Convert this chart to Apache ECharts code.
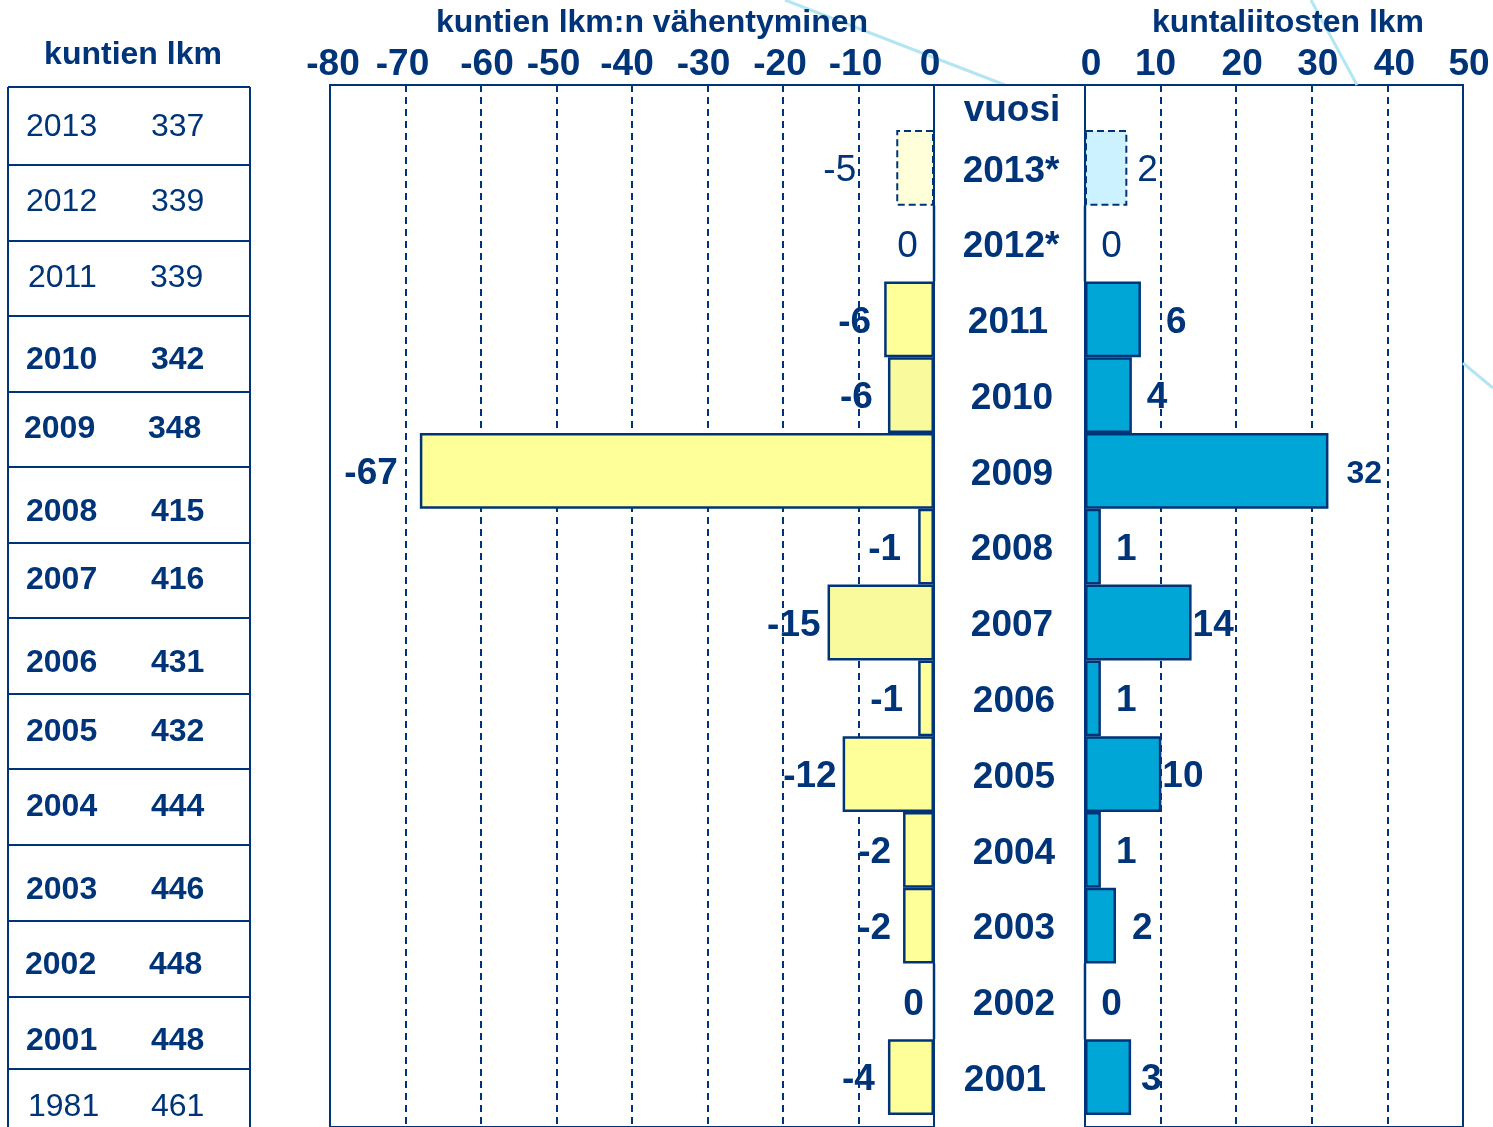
<!DOCTYPE html>
<html>
<head>
<meta charset="utf-8">
<title>kuntien lkm</title>
<script src="https://cdn.jsdelivr.net/npm/echarts@6/dist/echarts.min.js"></script>
<style>
html, body { margin: 0; padding: 0; background: #fff; }
#chart { width: 1493px; height: 1127px; }
</style>
</head>
<body>
<div id="chart"></div>
<script>
// data, bar lengths do not always agree with the printed labels
const years = ['2013*', '2012*', '2011', '2010', '2009', '2008', '2007', '2006', '2005', '2004', '2003', '2002', '2001'];
const decreaseBars = [-5, 0, -6.6, -6.1, -68.1, -2.1, -14.1, -2.1, -12.1, -4.1, -4.1, 0, -6.1];
const decreaseLabels = ['-5', '0', '-6', '-6', '-67', '-1', '-15', '-1', '-12', '-2', '-2', '0', '-4'];
const mergerBars = [5.6, 0, 7.4, 6.2, 32.2, 2.1, 14.1, 2.1, 10.1, 2.1, 4.1, 0, 6.1];
const mergerLabels = ['2', '0', '6', '4', '32', '1', '14', '1', '10', '1', '2', '0', '3'];
const tableYears = ['2013', '2012', '2011', '2010', '2009', '2008', '2007', '2006', '2005', '2004', '2003', '2002', '2001', '1981'];
const tableCounts = ['337', '339', '339', '342', '348', '415', '416', '431', '432', '444', '446', '448', '448', '461'];
const leftTicks = [-80, -70, -60, -50, -40, -30, -20, -10, 0];
const rightTicks = [0, 10, 20, 30, 40, 50];

// layout tweaks, the source slide is hand placed
const decreaseGaps = [40, 15, 13, 15, 22, 17, 7, 15, 6, 12, 12, 9, 13];
const mergerGaps = [10, 15, 25, 15, 18, 15, 1, 15, 1, 15, 16, 15, 10];
const leftTickShift = [3, -3, 6, -3, -5, -4, -3, -3, -4];
const rightTickShift = [6, -5, 6, 6, 7, 6];
const yearShift = [-1, -1, -4, 0, 0, 0, 0, 2, 2, 2, 2, 2, -7];
const rowLines = [87, 165, 241, 316, 392, 467, 543, 618, 694, 769, 845, 921, 997, 1069];
const rowTextY = [127, 202, 278, 360, 429, 512, 580, 663, 732, 807, 890, 965, 1041, 1107];
const rowYearX = [26, 26, 28, 26, 24, 26, 26, 26, 26, 26, 26, 25, 26, 28];
const rowCountX = [151, 151, 150, 151, 148, 151, 151, 151, 151, 151, 151, 149, 151, 151];

const NAVY = '#003478';
const FONT = '"Liberation Sans", Arial, sans-serif';

function shiftedLabels(list, shifts, size, down) {
  const rich = {};
  shifts.forEach((s, i) => {
    rich['p' + i] = {
      fontFamily: FONT, fontSize: size, fontWeight: 'bold', color: NAVY,
      padding: [down, s < 0 ? -2 * s : 0, 0, s > 0 ? 2 * s : 0],
    };
  });
  return {
    rich,
    formatter: (value) => `{p${list.indexOf(value)}|${value}}`,
  };
}

function barData(values, labels, gaps, side) {
  return values.map((value, i) => {
    const plain = i < 2; // * years are preliminary
    const item = {
      value,
      label: {
        show: true,
        position: side,
        distance: gaps[i],
        offset: [0, 3],
        formatter: labels[i],
        fontFamily: FONT,
        fontSize: labels[i] === '32' ? 32 : 37,
        fontWeight: plain ? 'normal' : 'bold',
        color: NAVY,
      },
    };
    if (i === 0) {
      item.itemStyle = {
        color: side === 'left' ? '#FFFFD9' : '#CCF2FF',
        borderColor: NAVY,
        borderWidth: 2,
        borderType: [7, 4],
      };
    }
    if (side === 'left' && (i === 3 || i === 6)) {
      item.itemStyle = { color: '#F8FA9B' };
    }
    return item;
  });
}

function valueAxis(grid, min, max, ticks, shifts, showLabels) {
  const labels = shiftedLabels(ticks.map(String), shifts, 37, 0);
  return {
    type: 'value',
    gridIndex: grid,
    position: 'top',
    min,
    max,
    interval: 10,
    axisLine: { show: false },
    axisTick: { show: false },
    axisLabel: {
      show: showLabels,
      margin: 2,
      rich: labels.rich,
      formatter: (value) => labels.formatter(String(value)),
    },
    splitLine: {
      show: showLabels,
      showMinLine: false,
      showMaxLine: false,
      lineStyle: { color: NAVY, width: 2, type: [7, 5] },
    },
  };
}

function decorLine(x1, y1, x2, y2) {
  return {
    type: 'line',
    z: 0,
    shape: { x1, y1, x2, y2 },
    style: { stroke: '#B3E5F2', lineWidth: 3 },
  };
}

function navyLine(x1, y1, x2, y2) {
  return {
    type: 'line',
    shape: { x1, y1, x2, y2 },
    style: { stroke: NAVY, lineWidth: 2 },
  };
}

function text(x, y, str, size, weight, align) {
  return {
    type: 'text',
    x,
    y,
    style: {
      text: str,
      fontFamily: FONT,
      fontSize: size,
      fontWeight: weight,
      fill: NAVY,
      align: align || 'center',
      verticalAlign: 'middle',
    },
  };
}

const tableParts = [navyLine(8, 87, 8, 1127), navyLine(250, 87, 250, 1127)];
rowLines.forEach((y) => tableParts.push(navyLine(8, y, 250, y)));
tableYears.forEach((year, i) => {
  const weight = i < 3 || i === 13 ? 'normal' : 'bold';
  tableParts.push(text(rowYearX[i], rowTextY[i], year, 32, weight, 'left'));
  tableParts.push(text(rowCountX[i], rowTextY[i], tableCounts[i], 32, weight, 'left'));
});

const yearLabels = shiftedLabels(years, yearShift, 37, 7);
const bandsTop = 130;
const bandsHeight = 985;

const chart = echarts.init(document.getElementById('chart'), null, { renderer: 'canvas' });
chart.setOption({
  animation: false,
  backgroundColor: '#fff',
  // frame with the dashed lines, then the bars start lower so that "vuosi" fits
  grid: [
    { left: 330, width: 604, top: 85, height: 1100, show: true, borderColor: NAVY, borderWidth: 2, backgroundColor: '#fff' },
    { left: 1085, width: 378, top: 85, height: 1100, show: true, borderColor: NAVY, borderWidth: 2, backgroundColor: '#fff' },
    { left: 330, width: 604, top: bandsTop, height: bandsHeight },
    { left: 1085, width: 378, top: bandsTop, height: bandsHeight },
  ],
  xAxis: [
    valueAxis(0, -80, 0, leftTicks, leftTickShift, true),
    valueAxis(1, 0, 50, rightTicks, rightTickShift, true),
    valueAxis(2, -80, 0, leftTicks, leftTickShift, false),
    valueAxis(3, 0, 50, rightTicks, rightTickShift, false),
  ],
  yAxis: [
    { type: 'value', gridIndex: 0, show: false },
    { type: 'value', gridIndex: 1, show: false },
    { type: 'category', gridIndex: 2, data: years, inverse: true, show: false },
    {
      type: 'category',
      gridIndex: 3,
      data: years,
      inverse: true,
      axisLine: { show: false },
      axisTick: { show: false },
      axisLabel: {
        margin: 73,
        align: 'center',
        rich: yearLabels.rich,
        formatter: yearLabels.formatter,
      },
    },
  ],
  series: [
    {
      type: 'bar',
      xAxisIndex: 2,
      yAxisIndex: 2,
      barWidth: '100%',
      itemStyle: { color: '#FFFF99', borderColor: NAVY, borderWidth: 2.5 },
      data: barData(decreaseBars, decreaseLabels, decreaseGaps, 'left'),
    },
    {
      type: 'bar',
      xAxisIndex: 3,
      yAxisIndex: 3,
      barWidth: '100%',
      itemStyle: { color: '#00A6D6', borderColor: NAVY, borderWidth: 2.5 },
      data: barData(mergerBars, mergerLabels, mergerGaps, 'right'),
    },
  ],
  graphic: [
    decorLine(785, 0, 1005, 85),
    decorLine(1311, 0, 1357, 85),
    decorLine(1463, 363, 1493, 388),
    navyLine(934, 85, 1085, 85),
    text(133, 55, 'kuntien lkm', 32, 'bold'),
    text(652, 23, 'kuntien lkm:n vähentyminen', 32, 'bold'),
    text(1288, 23, 'kuntaliitosten lkm', 32, 'bold'),
    text(1012, 111, 'vuosi', 37, 'bold'),
    ...tableParts,
  ],
});
</script>
</body>
</html>
